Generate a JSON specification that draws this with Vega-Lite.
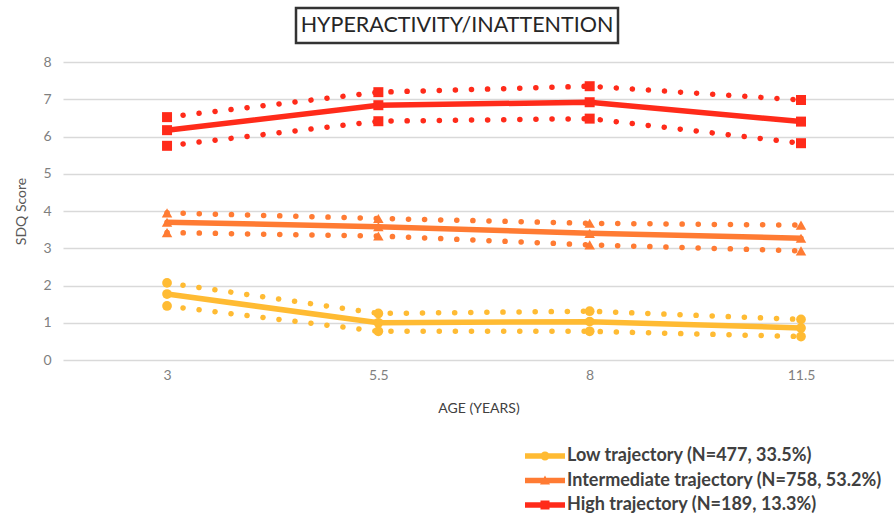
{
  "$schema": "https://vega.github.io/schema/vega-lite/v6.json",
  "padding": {"left": 14, "top": 6, "right": 0, "bottom": 0},
  "background": "white",
  "config": {"font": "Lato", "view": {"stroke": null}},
  "spacing": 10,
  "datasets": {
    "title": [{"t": "HYPERACTIVITY/INATTENTION"}],
    "sdq": [
      {"series": "Low trajectory (N=477, 33.5%)", "age": "3", "bound": "est", "value": 1.77},
      {"series": "Low trajectory (N=477, 33.5%)", "age": "3", "bound": "upper", "value": 2.07},
      {"series": "Low trajectory (N=477, 33.5%)", "age": "3", "bound": "lower", "value": 1.45},
      {"series": "Low trajectory (N=477, 33.5%)", "age": "5.5", "bound": "est", "value": 1.0},
      {"series": "Low trajectory (N=477, 33.5%)", "age": "5.5", "bound": "upper", "value": 1.25},
      {"series": "Low trajectory (N=477, 33.5%)", "age": "5.5", "bound": "lower", "value": 0.77},
      {"series": "Low trajectory (N=477, 33.5%)", "age": "8", "bound": "est", "value": 1.03},
      {"series": "Low trajectory (N=477, 33.5%)", "age": "8", "bound": "upper", "value": 1.31},
      {"series": "Low trajectory (N=477, 33.5%)", "age": "8", "bound": "lower", "value": 0.77},
      {"series": "Low trajectory (N=477, 33.5%)", "age": "11.5", "bound": "est", "value": 0.86},
      {"series": "Low trajectory (N=477, 33.5%)", "age": "11.5", "bound": "upper", "value": 1.09},
      {"series": "Low trajectory (N=477, 33.5%)", "age": "11.5", "bound": "lower", "value": 0.63},
      {"series": "Intermediate trajectory (N=758, 53.2%)", "age": "3", "bound": "est", "value": 3.7},
      {"series": "Intermediate trajectory (N=758, 53.2%)", "age": "3", "bound": "upper", "value": 3.95},
      {"series": "Intermediate trajectory (N=758, 53.2%)", "age": "3", "bound": "lower", "value": 3.42},
      {"series": "Intermediate trajectory (N=758, 53.2%)", "age": "5.5", "bound": "est", "value": 3.58},
      {"series": "Intermediate trajectory (N=758, 53.2%)", "age": "5.5", "bound": "upper", "value": 3.8},
      {"series": "Intermediate trajectory (N=758, 53.2%)", "age": "5.5", "bound": "lower", "value": 3.33},
      {"series": "Intermediate trajectory (N=758, 53.2%)", "age": "8", "bound": "est", "value": 3.4},
      {"series": "Intermediate trajectory (N=758, 53.2%)", "age": "8", "bound": "upper", "value": 3.67},
      {"series": "Intermediate trajectory (N=758, 53.2%)", "age": "8", "bound": "lower", "value": 3.09},
      {"series": "Intermediate trajectory (N=758, 53.2%)", "age": "11.5", "bound": "est", "value": 3.27},
      {"series": "Intermediate trajectory (N=758, 53.2%)", "age": "11.5", "bound": "upper", "value": 3.62},
      {"series": "Intermediate trajectory (N=758, 53.2%)", "age": "11.5", "bound": "lower", "value": 2.93},
      {"series": "High trajectory (N=189, 13.3%)", "age": "3", "bound": "est", "value": 6.17},
      {"series": "High trajectory (N=189, 13.3%)", "age": "3", "bound": "upper", "value": 6.52},
      {"series": "High trajectory (N=189, 13.3%)", "age": "3", "bound": "lower", "value": 5.75},
      {"series": "High trajectory (N=189, 13.3%)", "age": "5.5", "bound": "est", "value": 6.84},
      {"series": "High trajectory (N=189, 13.3%)", "age": "5.5", "bound": "upper", "value": 7.19},
      {"series": "High trajectory (N=189, 13.3%)", "age": "5.5", "bound": "lower", "value": 6.41},
      {"series": "High trajectory (N=189, 13.3%)", "age": "8", "bound": "est", "value": 6.92},
      {"series": "High trajectory (N=189, 13.3%)", "age": "8", "bound": "upper", "value": 7.35},
      {"series": "High trajectory (N=189, 13.3%)", "age": "8", "bound": "lower", "value": 6.48},
      {"series": "High trajectory (N=189, 13.3%)", "age": "11.5", "bound": "est", "value": 6.4},
      {"series": "High trajectory (N=189, 13.3%)", "age": "11.5", "bound": "upper", "value": 6.98},
      {"series": "High trajectory (N=189, 13.3%)", "age": "11.5", "bound": "lower", "value": 5.82}
    ]
  },
  "vconcat": [
    {
      "spacing": 0,
      "hconcat": [
        {
          "width": 231,
          "height": 35,
          "data": {"name": "title"},
          "mark": {"type": "text"},
          "encoding": {"text": {"value": ""}}
        },
        {
          "width": 322,
          "height": 35,
          "view": {"stroke": "#333333", "strokeWidth": 2.5},
          "data": {"name": "title"},
          "mark": {"type": "text", "fontSize": 21.5, "color": "#262626", "align": "center", "baseline": "middle"},
          "encoding": {"text": {"field": "t"}}
        }
      ]
    },
    {
      "width": 831,
      "height": 298,
      "data": {"name": "sdq"},
      "encoding": {
        "x": {
          "field": "age", "type": "ordinal", "sort": ["3", "5.5", "8", "11.5"],
          "scale": {"type": "point", "padding": 0.4662, "align": 0.528},
          "title": "AGE (YEARS)",
          "axis": {"labelAngle": 0, "domain": false, "ticks": false, "grid": false, "labelColor": "#7f7f7f", "labelFontSize": 14, "labelPadding": 8, "titleColor": "#404040", "titleFontSize": 14, "titleFontWeight": "normal", "titlePadding": 19}
        },
        "y": {
          "field": "value", "type": "quantitative",
          "scale": {"domain": [0, 8]},
          "title": "SDQ Score",
          "axis": {
            "values": [0, 1, 2, 3, 4, 5, 6, 7, 8], "grid": true, "gridColor": "#d9d9d9", "gridWidth": 1.5,
            "domain": false, "ticks": false, "labelColor": "#7f7f7f", "labelFontSize": 14, "labelPadding": 12,
            "titleColor": "#595959", "titleFontSize": 14, "titleFontWeight": "normal", "titlePadding": 14
          }
        },
        "color": {
          "field": "series", "type": "nominal",
          "scale": {
            "domain": ["Low trajectory (N=477, 33.5%)", "Intermediate trajectory (N=758, 53.2%)", "High trajectory (N=189, 13.3%)"],
            "range": ["#FFBB33", "#FF7B33", "#FF2B1A"]
          },
          "legend": {
            "title": null,
            "orient": "none",
            "legendX": 472,
            "legendY": 438,
            "padding": 0,
            "symbolSize": 400,
            "labelOffset": 12,
            "rowPadding": 5.5,
            "labelFont": "Lato",
            "labelFontSize": 18,
            "labelFontWeight": "bold",
            "labelColor": "#404040",
            "labelLimit": 400,
            "encode": {
              "symbols": {
                "update": {
                  "shape": {"signal": "indexof(datum.label, 'Low') == 0 ? 'M-2,-0.28H2V0.28H-2Z M-0.45,0A0.45,0.45 0 1 1 0.45,0A0.45,0.45 0 1 1 -0.45,0Z' : indexof(datum.label, 'Inter') == 0 ? 'M-2,-0.28H2V0.28H-2Z M0,-0.5L0.5,0.4L-0.5,0.4Z' : 'M-2,-0.28H2V0.28H-2Z M-0.45,-0.45H0.45V0.45H-0.45Z'"},
                  "fill": {"scale": "color", "field": "value"},
                  "stroke": {"value": "transparent"},
                  "strokeWidth": {"value": 0},
                  "strokeDash": {"value": []},
                  "opacity": {"value": 1},
                  "fillOpacity": {"value": 1}
                }
              }
            }
          }
        }
      },
      "layer": [
        {
          "transform": [{"filter": "datum.bound != 'est'"}],
          "mark": {"type": "line", "strokeWidth": 5.5, "strokeDash": [0.1, 16], "strokeCap": "round"},
          "encoding": {"detail": {"field": "bound"}}
        },
        {
          "transform": [{"filter": "datum.bound == 'est'"}],
          "mark": {"type": "line", "strokeWidth": 5.5, "strokeCap": "round"}
        },
        {
          "transform": [{"filter": "indexof(datum.series, 'Low') == 0"}],
          "mark": {"type": "point", "shape": "circle", "filled": true, "opacity": 1, "size": 95}
        },
        {
          "transform": [{"filter": "indexof(datum.series, 'Inter') == 0"}],
          "mark": {"type": "point", "shape": "triangle-up", "filled": true, "opacity": 1, "size": 110}
        },
        {
          "transform": [{"filter": "indexof(datum.series, 'High') == 0"}],
          "mark": {"type": "point", "shape": "square", "filled": true, "opacity": 1, "size": 100}
        }
      ]
    }
  ]
}
